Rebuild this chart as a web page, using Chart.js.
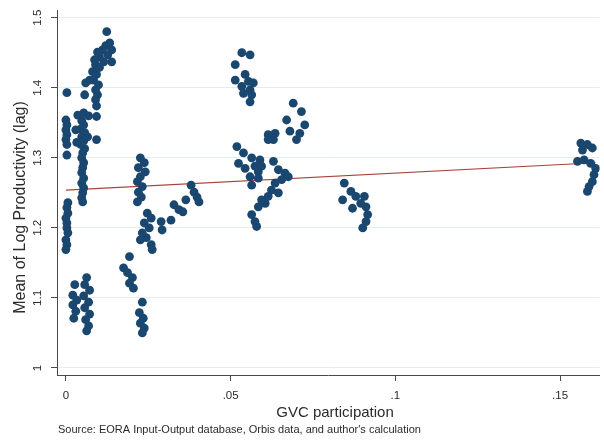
<!DOCTYPE html>
<html>
<head>
<meta charset="utf-8">
<script src="https://cdn.jsdelivr.net/npm/chart.js@4.4.1/dist/chart.umd.min.js"></script>
<style>
  html, body { margin: 0; padding: 0; background: #ffffff; }
  #wrap { width: 604px; height: 440px; }
</style>
</head>
<body>
<div id="wrap"><canvas id="chart" width="604" height="440"></canvas></div>
<script>
// GVC participation (x) and mean log productivity, lagged (y), one entry per observation
const gvcParticipation = [
  0.0003, 0.0000, 0.0003, 0.0000, 0.0003, 0.0000, 0.0003, 0.0003,
  0.0006, 0.0003, 0.0006, 0.0000, 0.0003, 0.0003, 0.0006, 0.0000, 0.0003, 0.0000,
  0.0057, 0.0093, 0.0093, 0.0036, 0.0054, 0.0069, 0.0048, 0.0054, 0.0045, 0.0057,
  0.0048, 0.0054, 0.0045, 0.0057, 0.0051, 0.0048, 0.0054, 0.0051, 0.0048, 0.0054,
  0.0048, 0.0054, 0.0051, 0.0048, 0.0051, 0.0030, 0.0066, 0.0033,
  0.0027, 0.0021, 0.0033, 0.0021, 0.0030, 0.0024,
  0.0063, 0.0057, 0.0072, 0.0054, 0.0069, 0.0057, 0.0072, 0.0060, 0.0069, 0.0063,
  0.0124, 0.0133, 0.0121, 0.0139, 0.0111, 0.0096, 0.0127, 0.0102, 0.0139, 0.0087,
  0.0115, 0.0090, 0.0102, 0.0081, 0.0093, 0.0084, 0.0099, 0.0090, 0.0096, 0.0090,
  0.0093, 0.0060, 0.0072,
  0.0226, 0.0238, 0.0220, 0.0241, 0.0226, 0.0217, 0.0232, 0.0220, 0.0229, 0.0217,
  0.0193, 0.0175, 0.0187, 0.0202, 0.0193, 0.0205,
  0.0232, 0.0223, 0.0235, 0.0226, 0.0238, 0.0232,
  0.0247, 0.0259, 0.0238, 0.0253, 0.0232, 0.0244, 0.0226, 0.0259, 0.0262,
  0.0289, 0.0292, 0.0319, 0.0328, 0.0343, 0.0364, 0.0355, 0.0380, 0.0389, 0.0398, 0.0404,
  0.0534, 0.0559, 0.0514, 0.0514, 0.0544, 0.0554, 0.0569, 0.0534, 0.0559, 0.0539, 0.0564, 0.0559,
  0.0690, 0.0715, 0.0670, 0.0725, 0.0680, 0.0710, 0.0700, 0.0614, 0.0635, 0.0630, 0.0614,
  0.0519, 0.0539, 0.0524, 0.0544, 0.0564, 0.0589, 0.0574, 0.0584, 0.0594, 0.0559,
  0.0584, 0.0564, 0.0630, 0.0645, 0.0665, 0.0675, 0.0655, 0.0635, 0.0624, 0.0645,
  0.0614, 0.0605, 0.0594, 0.0584, 0.0564, 0.0574, 0.0579,
  0.0845, 0.0865, 0.0840, 0.0880, 0.0906, 0.0895, 0.0870, 0.0911, 0.0916, 0.0911, 0.0901,
  0.1563, 0.1583, 0.1598, 0.1568, 0.1553, 0.1573, 0.1593, 0.1608, 0.1603, 0.1598, 0.1588, 0.1583
];
const logProductivity = [
  1.393, 1.354, 1.347, 1.340, 1.333, 1.326, 1.319, 1.304,
  1.236, 1.229, 1.221, 1.214, 1.207, 1.200, 1.193, 1.183, 1.176, 1.169,
  1.390, 1.359, 1.326, 1.361, 1.364, 1.360, 1.353, 1.347, 1.341, 1.336,
  1.330, 1.324, 1.319, 1.313, 1.307, 1.300, 1.293, 1.286, 1.279, 1.271,
  1.264, 1.257, 1.250, 1.243, 1.237, 1.340, 1.330, 1.322,
  1.119, 1.104, 1.097, 1.090, 1.081, 1.071,
  1.129, 1.119, 1.111, 1.103, 1.094, 1.086, 1.077, 1.069, 1.060, 1.053,
  1.480, 1.464, 1.460, 1.454, 1.454, 1.451, 1.447, 1.444, 1.437, 1.440,
  1.437, 1.433, 1.429, 1.423, 1.419, 1.411, 1.404, 1.397, 1.390, 1.383,
  1.374, 1.407, 1.411,
  1.300, 1.293, 1.286, 1.280, 1.273, 1.266, 1.259, 1.251, 1.244, 1.237,
  1.159, 1.143, 1.136, 1.129, 1.121, 1.114,
  1.094, 1.079, 1.071, 1.064, 1.057, 1.050,
  1.221, 1.214, 1.207, 1.200, 1.193, 1.186, 1.183, 1.176, 1.169,
  1.209, 1.197, 1.211, 1.233, 1.226, 1.240, 1.223, 1.261, 1.251, 1.244, 1.237,
  1.450, 1.447, 1.433, 1.411, 1.419, 1.409, 1.407, 1.402, 1.397, 1.392, 1.390, 1.380,
  1.378, 1.366, 1.354, 1.347, 1.338, 1.335, 1.326, 1.333, 1.335, 1.326, 1.326,
  1.316, 1.307, 1.292, 1.285, 1.300, 1.297, 1.288, 1.280, 1.288, 1.273,
  1.271, 1.261, 1.295, 1.283, 1.278, 1.273, 1.269, 1.264, 1.254, 1.250,
  1.245, 1.235, 1.240, 1.230, 1.219, 1.209, 1.202,
  1.264, 1.252, 1.240, 1.245, 1.245, 1.235, 1.228, 1.230, 1.219, 1.209, 1.200,
  1.321, 1.319, 1.314, 1.311, 1.295, 1.297, 1.292, 1.285, 1.276, 1.266, 1.259, 1.252
];

// End points of the linear fit line
const fitX = [0, 0.1608];
const fitY = [1.254, 1.293];

// Axis ticks and text
const xTickValues = [0, 0.05, 0.1, 0.15];
const xTickLabels = ['0', '.05', '.1', '.15'];
const yTickValues = [1, 1.1, 1.2, 1.3, 1.4, 1.5];
const yTickLabels = ['1', '1.1', '1.2', '1.3', '1.4', '1.5'];
const xTitle = 'GVC participation';
const yTitle = 'Mean of Log Productivity (lag)';
const sourceNote = "Source: EORA Input-Output database, Orbis data, and author's calculation";

const FONT = '"Liberation Sans", Arial, Helvetica, sans-serif';
const TEXT = '#2b2b2b';
const AXIS = '#4a4a4a';

const scatterPoints = gvcParticipation.map((x, i) => ({ x: x, y: logProductivity[i] }));
const fitPoints = fitX.map((x, i) => ({ x: x, y: fitY[i] }));

// Rotated y tick labels, axis titles and the source note
const textLayer = {
  id: 'textLayer',
  afterDraw(chart) {
    const ctx = chart.ctx;
    const ys = chart.scales.y;
    const area = chart.chartArea;
    ctx.save();
    ctx.fillStyle = TEXT;
    ctx.textAlign = 'center';
    ctx.textBaseline = 'middle';

    ctx.font = '11.5px ' + FONT;
    yTickValues.forEach((v, i) => {
      ctx.save();
      ctx.translate(area.left - 19, ys.getPixelForValue(v));
      ctx.rotate(-Math.PI / 2);
      ctx.fillText(yTickLabels[i], 0, 0);
      ctx.restore();
    });

    ctx.font = '16px ' + FONT;
    ctx.save();
    ctx.translate(21, (area.top + area.bottom) / 2 + 15);
    ctx.rotate(-Math.PI / 2);
    ctx.fillText(yTitle, 0, 0);
    ctx.restore();

    ctx.font = '15px ' + FONT;
    ctx.fillText(xTitle, 335, area.bottom + 38);

    ctx.font = '11px ' + FONT;
    ctx.textAlign = 'left';
    ctx.fillText(sourceNote, 58, area.bottom + 55);
    ctx.restore();
  }
};

new Chart(document.getElementById('chart'), {
  type: 'scatter',
  data: {
    datasets: [
      {
        data: scatterPoints,
        pointRadius: 4.4,
        pointHoverRadius: 4.4,
        pointBackgroundColor: '#1a476f',
        pointBorderColor: '#1a476f',
        pointBorderWidth: 0
      },
      {
        data: fitPoints,
        showLine: true,
        borderColor: '#a8423c',
        borderWidth: 1.2,
        pointRadius: 0,
        fill: false
      }
    ]
  },
  options: {
    responsive: false,
    animation: false,
    devicePixelRatio: 1,
    events: [],
    layout: { padding: { top: 10, right: 0, bottom: 0, left: 0 } },
    plugins: { legend: { display: false }, tooltip: { enabled: false } },
    scales: {
      x: {
        type: 'linear',
        min: -0.0027,
        max: 0.162,
        afterBuildTicks: (s) => { s.ticks = xTickValues.map(v => ({ value: v })); },
        afterFit: (s) => { s.height = 65; },
        grid: { drawOnChartArea: false, drawTicks: true, tickLength: 6, tickColor: AXIS, tickWidth: 1 },
        border: { display: true, color: AXIS, width: 1 },
        ticks: {
          autoSkip: false, maxRotation: 0, minRotation: 0, padding: 8,
          color: TEXT, font: { family: FONT, size: 11.5 },
          callback: (v, i) => xTickLabels[i]
        }
      },
      y: {
        type: 'linear',
        min: 0.99,
        max: 1.511,
        afterBuildTicks: (s) => { s.ticks = yTickValues.map(v => ({ value: v })); },
        afterFit: (s) => { s.width = 57; },
        grid: { color: '#e7edef', lineWidth: 1, drawTicks: true, tickLength: 6, tickColor: AXIS, tickWidth: 1 },
        border: { display: true, color: AXIS, width: 1 },
        ticks: { display: false }
      }
    }
  },
  plugins: [textLayer]
});
</script>
</body>
</html>
